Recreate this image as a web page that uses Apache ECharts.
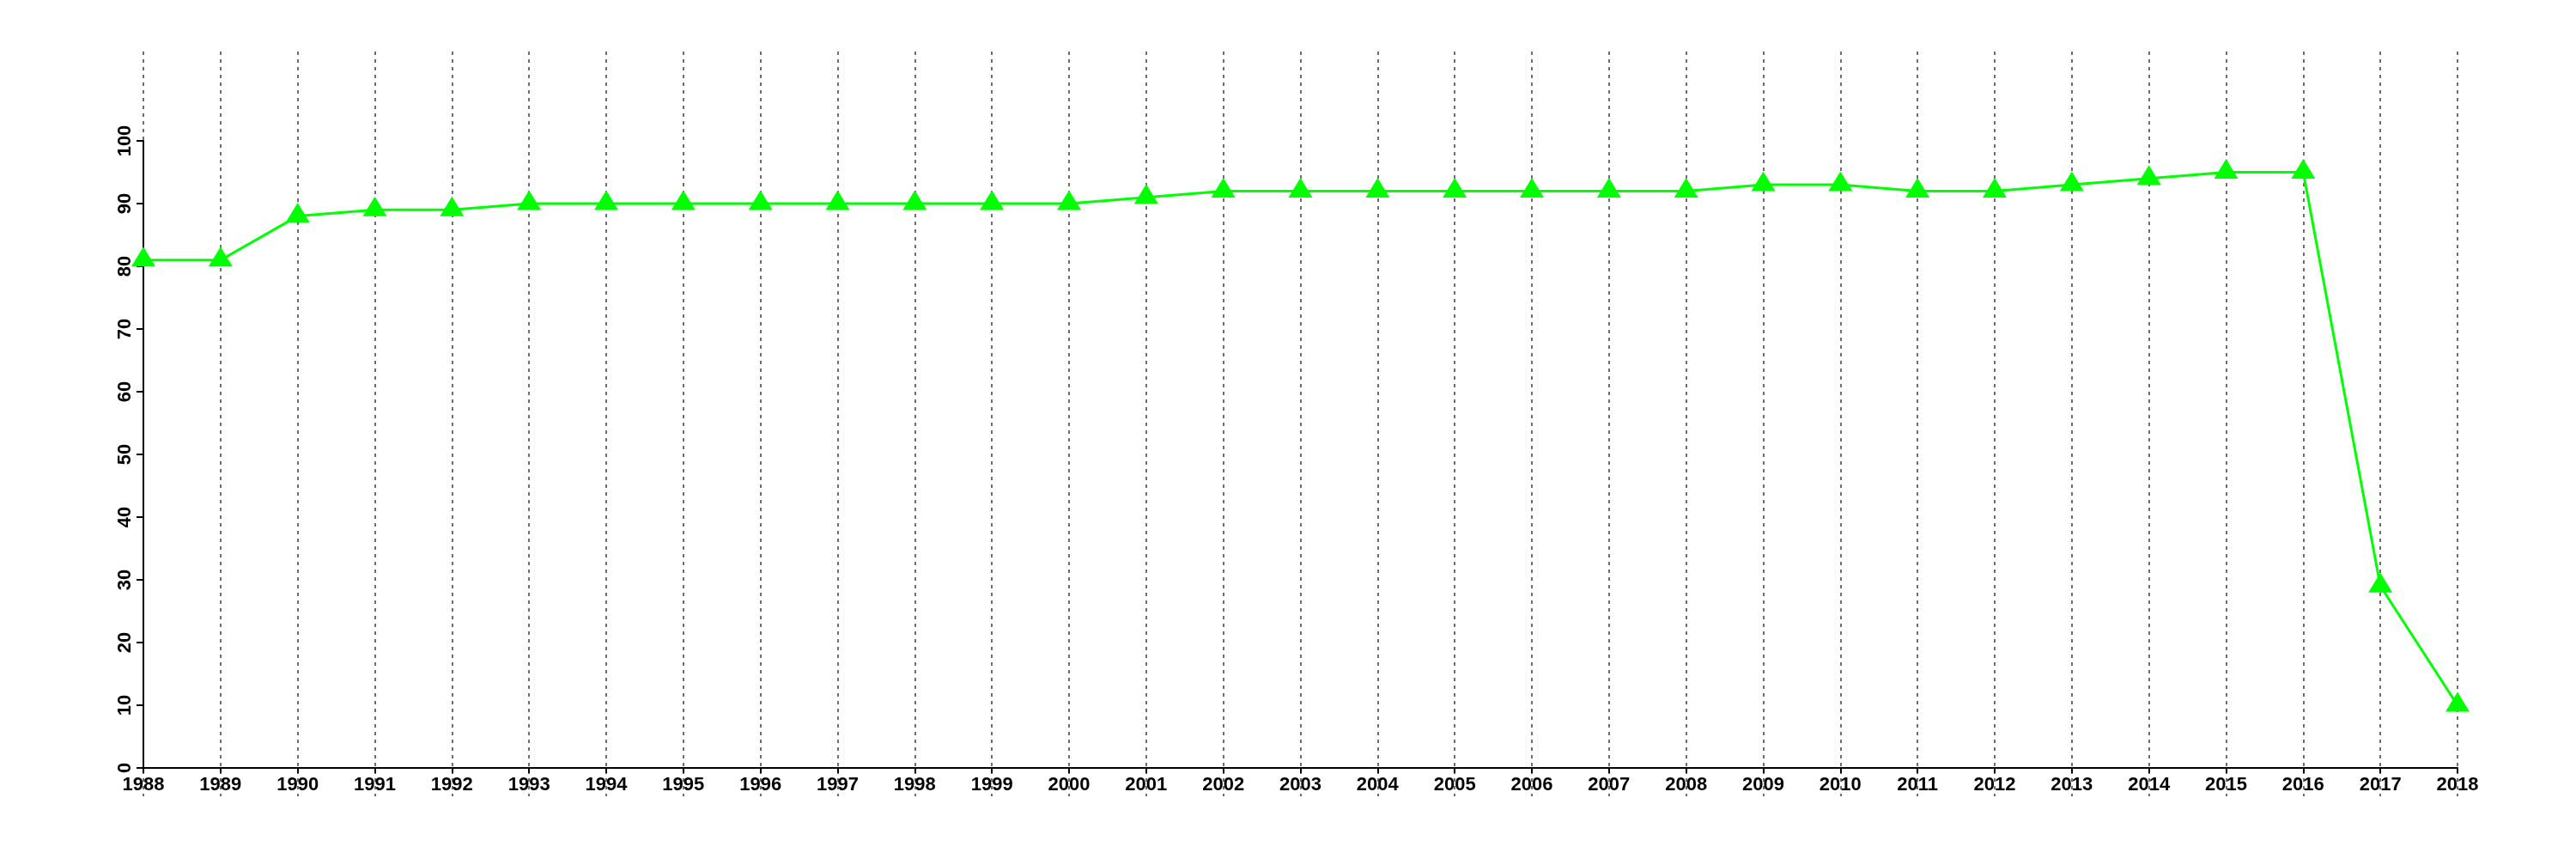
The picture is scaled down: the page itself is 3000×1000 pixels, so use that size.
<!DOCTYPE html>
<html>
<head>
<meta charset="utf-8">
<script src="https://cdn.jsdelivr.net/npm/echarts@6/dist/echarts.min.js"></script>
<style>html,body{margin:0;padding:0;background:#fff}#c{width:3000px;height:1000px}</style>
</head>
<body>
<div id="c"></div>
<script>
const years = ['1988','1989','1990','1991','1992','1993','1994','1995','1996','1997','1998','1999','2000','2001','2002','2003','2004','2005','2006','2007','2008','2009','2010','2011','2012','2013','2014','2015','2016','2017','2018'];
const values = [81,81,88,89,89,90,90,90,90,90,90,90,90,91,92,92,92,92,92,92,92,93,93,92,92,93,94,95,95,29,10];
const yMin = 0, yMax = 100, yStep = 10;

const chart = echarts.init(document.getElementById('c'), null, {renderer: 'canvas'});
const font = {fontFamily: 'Liberation Sans', fontWeight: 'bold', fontSize: 22, color: '#000'};
chart.setOption({
  animation: false,
  backgroundColor: '#fff',
  grid: [
    {left: 167, right: 138, top: 164, bottom: 106},
    {left: 167, right: 138, top: 60, bottom: 73}
  ],
  xAxis: [
    {
      gridIndex: 0, type: 'category', data: years, boundaryGap: false,
      axisLine: {show: true, lineStyle: {color: '#000', width: 2}},
      axisTick: {show: true, inside: false, length: 6, alignWithLabel: true, interval: 0, lineStyle: {color: '#000', width: 2}},
      axisLabel: Object.assign({interval: 0, margin: 9}, font),
      splitLine: {show: false}
    },
    {
      gridIndex: 1, type: 'category', data: years, boundaryGap: false,
      axisLine: {show: false}, axisTick: {show: false}, axisLabel: {show: false},
      splitLine: {show: true, interval: 0, lineStyle: {color: '#6e6e6e', width: 2, type: [4, 5]}}
    }
  ],
  yAxis: [
    {
      gridIndex: 0, type: 'value', min: yMin, max: yMax, interval: yStep,
      axisLine: {show: true, lineStyle: {color: '#000', width: 2}},
      axisTick: {show: true, length: 8, lineStyle: {color: '#000', width: 2}},
      axisLabel: Object.assign({rotate: 90, margin: 10}, font),
      splitLine: {show: false}
    },
    {gridIndex: 1, type: 'value', show: false, min: 0, max: 1}
  ],
  series: [{
    type: 'line', xAxisIndex: 0, yAxisIndex: 0, data: values,
    lineStyle: {color: '#00ff00', width: 3},
    itemStyle: {color: '#00ff00'},
    symbol: 'triangle', symbolSize: [28, 23], symbolOffset: [0, -4],
    showAllSymbol: true, z: 5
  }]
});
</script>
</body>
</html>
